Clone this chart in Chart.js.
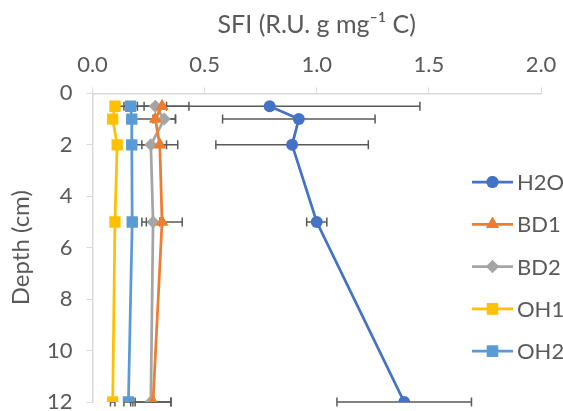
<!DOCTYPE html>
<html>
<head>
<meta charset="utf-8">
<script src="https://cdn.jsdelivr.net/npm/chart.js@4"></script>
<style>
  html, body { margin: 0; padding: 0; background: #fff; }
  #wrap { width: 563px; height: 411px; }
</style>
</head>
<body>
<div id="wrap"><canvas id="myChart" width="563" height="411"></canvas></div>
<script>
// depth of each sample (cm)
var depths = [0.5, 1, 2, 5, 12];

var h2o = [0.79, 0.92, 0.89, 1.00, 1.39];
var bd1 = [0.31, 0.28, 0.30, 0.31, 0.27];
var bd2 = [0.28, 0.32, 0.26, 0.27, 0.26];
var oh1 = [0.10, 0.09, 0.11, 0.10, 0.09];
var oh2 = [0.17, 0.175, 0.175, 0.177, 0.16];

// standard error (horizontal bars)
var h2oErr = [0.67, 0.34, 0.34, 0.045, 0.30];
var bd1Err = [0.12, 0.09, 0.08, 0.09, 0.08];
var bd2Err = [0.05, 0.05, 0.07, 0.03, 0.09];
var oh1Err = [0.01, 0.01, 0.01, 0.01, 0.01];
var oh2Err = [0.03, 0.02, 0.02, 0.02, 0.02];

var xTicks = [0, 0.5, 1.0, 1.5, 2.0];
var yTicks = [0, 2, 4, 6, 8, 10, 12];

var FONT = "Lato, 'Open Sans', sans-serif";
var TXT = "#595959";

function pts(vals, errs) {
    return vals.map(function (v, i) { return {x: v, y: depths[i], err: errs[i]}; });
}

var errorBars = {
    id: 'errorBars',
    beforeDatasetsDraw: function (chart) {
        var ctx = chart.ctx;
        var xs = chart.scales.x, ys = chart.scales.y;
        ctx.save();
        ctx.strokeStyle = "#595959";
        ctx.lineWidth = 1.5;
        chart.data.datasets.forEach(function (ds) {
            ds.data.forEach(function (p) {
                var y = ys.getPixelForValue(p.y);
                var x1 = xs.getPixelForValue(p.x - p.err);
                var x2 = xs.getPixelForValue(p.x + p.err);
                ctx.beginPath();
                ctx.moveTo(x1, y); ctx.lineTo(x2, y);
                ctx.moveTo(x1, y - 4.5); ctx.lineTo(x1, y + 4.5);
                ctx.moveTo(x2, y - 4.5); ctx.lineTo(x2, y + 4.5);
                ctx.stroke();
            });
        });
        ctx.restore();
    }
};

// legend drawn inside the plot like the original
var sideLegend = {
    id: 'sideLegend',
    afterDraw: function (chart) {
        var ctx = chart.ctx;
        var x0 = 472, x1 = 513, y0 = 182, gap = 42.3;
        ctx.save();
        chart.data.datasets.forEach(function (ds, i) {
            var y = y0 + i * gap;
            ctx.strokeStyle = ds.borderColor;
            ctx.lineWidth = ds.borderWidth;
            ctx.beginPath();
            ctx.moveTo(x0, y); ctx.lineTo(x1, y);
            ctx.stroke();
            ctx.fillStyle = ds.backgroundColor;
            Chart.helpers.drawPoint(ctx, {pointStyle: ds.pointStyle, radius: ds.pointRadius, borderWidth: 0}, (x0 + x1) / 2, y);
            ctx.fill();
            ctx.fillStyle = TXT;
            ctx.font = "22px " + FONT;
            ctx.textBaseline = "middle";
            ctx.fillText(ds.label, x1 + 4, y + 1);
        });
        ctx.restore();
    }
};

function series(label, vals, errs, color, style, r) {
    return {
        label: label,
        data: pts(vals, errs),
        borderColor: color,
        backgroundColor: color,
        pointBackgroundColor: color,
        pointBorderColor: color,
        pointStyle: style,
        pointRadius: r,
        pointBorderWidth: 0,
        borderWidth: 2.75,
        showLine: true,
        tension: 0
    };
}

// let the plot run to the canvas edge like the original (last labels get clipped)
function noEdgePad(scale) {
    scale.paddingTop = 0;
    scale.paddingBottom = 0;
    scale.paddingLeft = 0;
    scale.paddingRight = 0;
}

var ctx = document.getElementById('myChart').getContext('2d');
var myChart = new Chart(ctx, {
    type: 'scatter',
    data: {
        datasets: [
            series("H2O", h2o, h2oErr, "#4472C4", "circle", 6),
            series("BD1", bd1, bd1Err, "#ED7D31", "triangle", 7.5),
            series("BD2", bd2, bd2Err, "#A5A5A5", "rectRot", 6.5),
            series("OH1", oh1, oh1Err, "#FFC000", "rect", 8),
            series("OH2", oh2, oh2Err, "#5B9BD5", "rect", 8)
        ]
    },
    options: {
        responsive: false,
        animation: false,
        layout: { padding: { left: 9, right: 22, top: 10, bottom: 9 } },
        scales: {
            x: {
                position: 'top',
                min: 0, max: 2,
                afterBuildTicks: function (axis) { axis.ticks = xTicks.map(function (v) { return {value: v}; }); },
                afterFit: noEdgePad,
                ticks: {
                    color: TXT,
                    font: { family: FONT, size: 22 },
                    padding: 9,
                    callback: function (v) { return v.toFixed(1); }
                },
                grid: { drawOnChartArea: false, color: "#d9d9d9", tickLength: 6 },
                border: { color: "#d9d9d9", width: 1.5 },
                title: {
                    display: true,
                    text: "SFI (R.U. g mg\u207B\u00B9 C)",
                    color: TXT,
                    font: { family: FONT, size: 25 },
                    padding: { top: 0, bottom: 3 }
                }
            },
            y: {
                reverse: true,
                min: 0, max: 12,
                afterBuildTicks: function (axis) { axis.ticks = yTicks.map(function (v) { return {value: v}; }); },
                afterFit: noEdgePad,
                ticks: {
                    color: TXT,
                    font: { family: FONT, size: 22 },
                    padding: 14
                },
                grid: { drawOnChartArea: false, color: "#d9d9d9", tickLength: 6 },
                border: { color: "#d9d9d9", width: 1.5 },
                title: {
                    display: true,
                    text: "Depth (cm)",
                    color: TXT,
                    font: { family: FONT, size: 24, lineHeight: 1 },
                    padding: { top: 0, bottom: 0 }
                }
            }
        },
        plugins: {
            legend: { display: false },
            tooltip: { enabled: false }
        }
    },
    plugins: [errorBars, sideLegend]
});
</script>
</body>
</html>
